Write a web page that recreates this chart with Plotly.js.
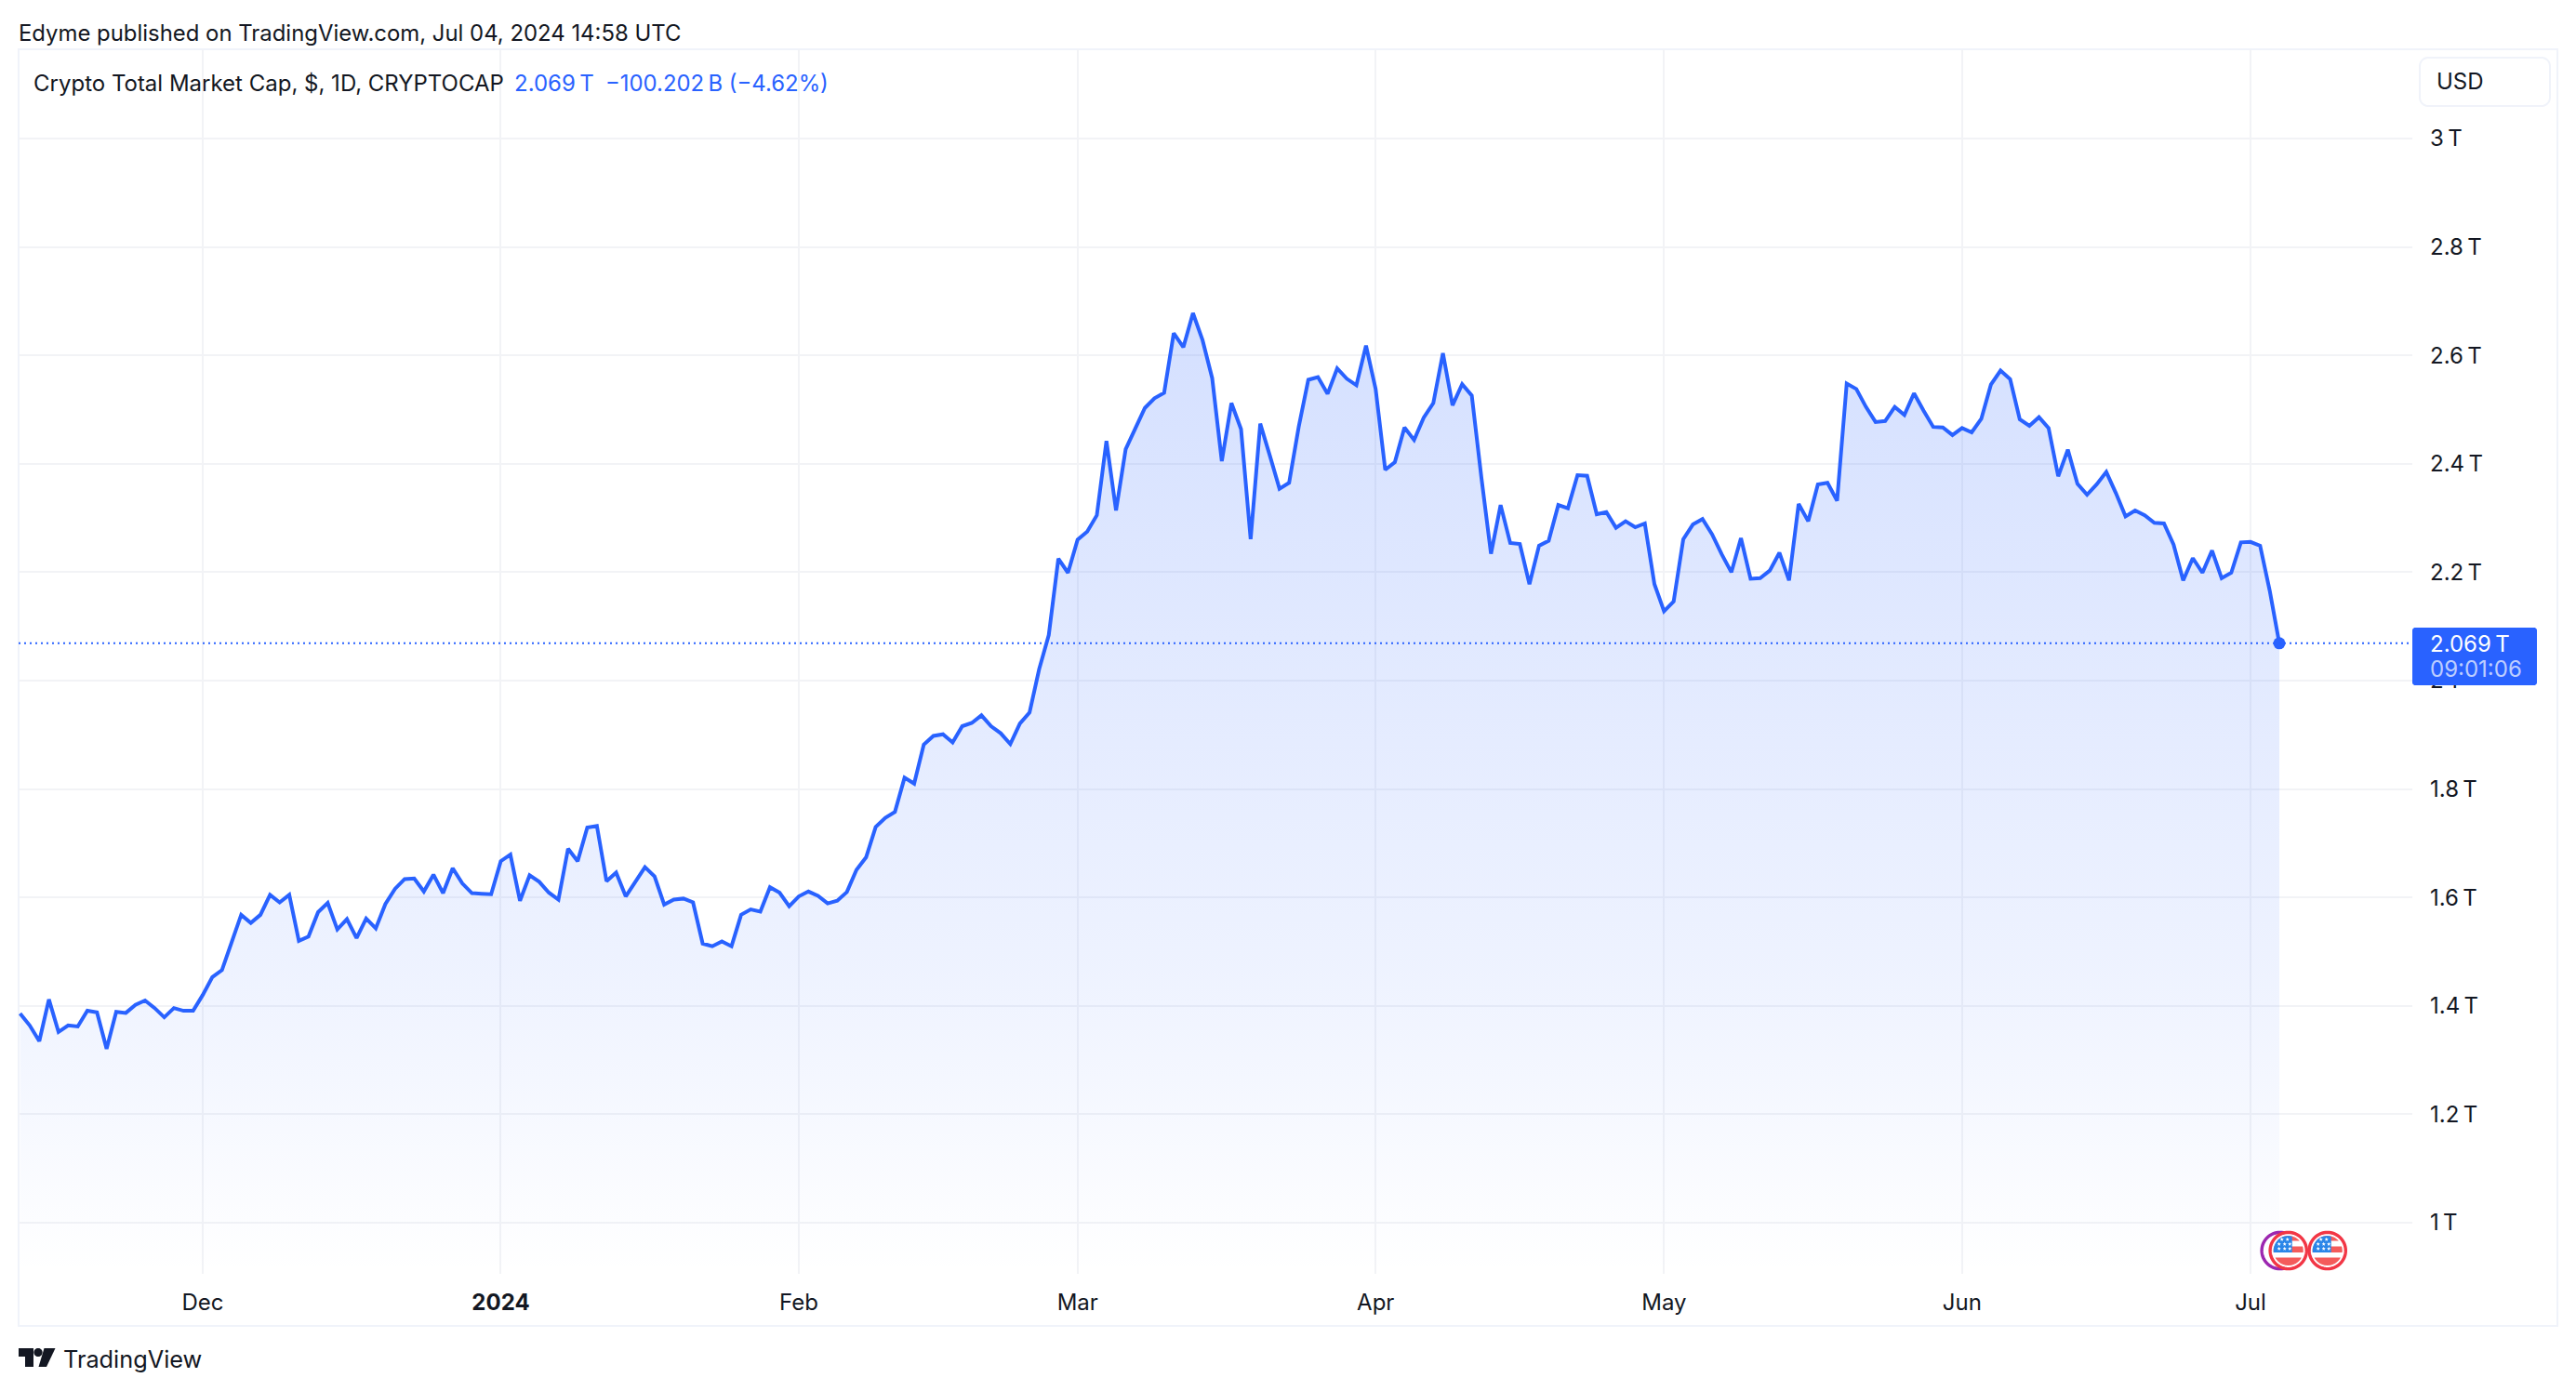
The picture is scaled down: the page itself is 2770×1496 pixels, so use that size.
<!DOCTYPE html>
<html>
<head>
<meta charset="utf-8">
<script src="https://cdn.plot.ly/plotly-3.0.1.min.js"></script>
<style>html,body{margin:0;padding:0;background:#fff;overflow:hidden}#chart{width:2770px;height:1496px}</style>
</head>
<body>
<div id="chart"></div>
<script>
// Daily closes in trillions of USD, one per day from the first date below
const firstDay = '2023-11-12';
const marketCapT = [
1.386,1.364,1.335,1.412,1.352,1.364,1.362,1.391,1.388,1.321,
1.389,1.387,1.402,1.410,1.396,1.379,1.396,1.391,1.391,1.420,
1.453,1.466,1.517,1.568,1.553,1.568,1.605,1.591,1.605,1.520,
1.528,1.573,1.590,1.541,1.560,1.525,1.561,1.543,1.588,1.616,
1.634,1.635,1.611,1.642,1.608,1.654,1.626,1.608,1.607,1.606,
1.667,1.679,1.594,1.641,1.629,1.609,1.596,1.690,1.667,1.729,
1.732,1.630,1.646,1.602,1.629,1.656,1.639,1.587,1.596,1.598,
1.591,1.515,1.510,1.519,1.510,1.568,1.578,1.574,1.619,1.609,
1.584,1.602,1.611,1.603,1.589,1.594,1.610,1.651,1.674,1.730,
1.747,1.758,1.821,1.810,1.882,1.898,1.901,1.886,1.916,1.922,
1.936,1.916,1.903,1.883,1.921,1.941,2.021,2.084,2.225,2.199,
2.260,2.275,2.305,2.442,2.314,2.427,2.465,2.503,2.521,2.531,
2.641,2.615,2.678,2.628,2.558,2.405,2.512,2.464,2.261,2.474,
2.415,2.354,2.365,2.468,2.555,2.560,2.529,2.576,2.557,2.545,
2.618,2.538,2.389,2.403,2.467,2.444,2.485,2.512,2.604,2.508,
2.547,2.526,2.375,2.234,2.324,2.254,2.252,2.178,2.249,2.258,
2.324,2.318,2.379,2.378,2.307,2.311,2.282,2.294,2.283,2.290,
2.178,2.128,2.146,2.261,2.288,2.298,2.270,2.233,2.200,2.263,
2.188,2.189,2.203,2.236,2.185,2.326,2.294,2.362,2.365,2.332,
2.548,2.538,2.505,2.477,2.479,2.505,2.490,2.530,2.498,2.468,
2.467,2.453,2.466,2.458,2.483,2.546,2.572,2.556,2.482,2.470,
2.486,2.466,2.377,2.426,2.363,2.343,2.362,2.385,2.346,2.303,
2.314,2.305,2.291,2.290,2.251,2.185,2.226,2.199,2.240,2.189,
2.199,2.255,2.256,2.249,2.166,2.069
];
const monthTicks = ['2023-12-01','2024-01-01','2024-02-01','2024-03-01','2024-04-01','2024-05-01','2024-06-01','2024-07-01'];
const monthLabels = ['Dec','<b>2024</b>','Feb','Mar','Apr','May','Jun','Jul'];
const priceTicks = [1,1.2,1.4,1.6,1.8,2,2.2,2.4,2.6,2.8,3];
const priceLabels = ['1\u202fT','1.2\u202fT','1.4\u202fT','1.6\u202fT','1.8\u202fT','2\u202fT','2.2\u202fT','2.4\u202fT','2.6\u202fT','2.8\u202fT','3\u202fT'];
const publishedText = 'Edyme published on TradingView.com, Jul 04, 2024 14:58 UTC';
const seriesTitle = 'Crypto Total Market Cap, $, 1D, CRYPTOCAP';
const lastText = '2.069\u202fT';
const changeText = '\u2212100.202\u202fB (\u22124.62%)';
const countdownText = '09:01:06';

const BLUE = '#2962FF', INK = '#131722', GRID = '#F2F3F6', FRAME = '#F0F3FA';
const FONT = 'Inter, "Noto Sans", sans-serif';
const W = 2770, H = 1496, L = 20, R = 2594, T = 53, B = 1370;

const days = marketCapT.map((_, i) => {
  const d = new Date(firstDay + 'T00:00:00Z');
  d.setUTCDate(d.getUTCDate() + i);
  return d.toISOString().slice(0, 10);
});
const lastDay = days[days.length - 1];
const lastValue = marketCapT[marketCapT.length - 1];

const px = x => (x - L) / (R - L);
const py = y => (B - y) / (B - T);

function label(text, x, y, size, color, extra) {
  return Object.assign({
    text, xref: 'paper', yref: 'paper', x: px(x), y: py(y), xanchor: 'left', yanchor: 'middle',
    showarrow: false, borderpad: 0, font: {family: FONT, size, color}
  }, extra || {});
}

// Icon helpers: paths in page pixels, turned into pixel-sized paper-anchored shapes
function iconShape(points, fill, line, lineWidth, closed) {
  const path = points.map((p, i) => (i ? 'L' : 'M') + (p[0] - L).toFixed(2) + ',' + (T - p[1]).toFixed(2)).join(' ') + (closed === false ? '' : ' Z');
  return {
    type: 'path', layer: 'above', xref: 'paper', yref: 'paper',
    xsizemode: 'pixel', ysizemode: 'pixel', xanchor: 0, yanchor: 1,
    path, fillcolor: fill || 'rgba(0,0,0,0)', line: {color: line || 'rgba(0,0,0,0)', width: lineWidth || 0}
  };
}
function circle(cx, cy, r) {
  const pts = [];
  for (let i = 0; i < 64; i++) {
    const a = i / 64 * 2 * Math.PI;
    pts.push([cx + r * Math.cos(a), cy + r * Math.sin(a)]);
  }
  return pts;
}
function band(cx, cy, r, x1, x2, y1, y2) {
  const right = [], left = [];
  const n = 24;
  for (let i = 0; i <= n; i++) {
    const y = y1 + (y2 - y1) * i / n;
    const h = Math.sqrt(Math.max(0, r * r - (y - cy) * (y - cy)));
    right.push([Math.min(x2, cx + h), y]);
    left.unshift([Math.max(x1, cx - h), y]);
  }
  return right.concat(left);
}
function star(cx, cy, r) {
  const pts = [];
  for (let i = 0; i < 10; i++) {
    const a = -Math.PI / 2 + i * Math.PI / 5, q = i % 2 ? r * 0.45 : r;
    pts.push([cx + q * Math.cos(a), cy + q * Math.sin(a)]);
  }
  return pts;
}
function roundRect(x0, y0, x1, y1, r) {
  const pts = [];
  const corner = (cx, cy, a0) => { for (let i = 0; i <= 6; i++) { const a = a0 + i / 6 * Math.PI / 2; pts.push([cx + r * Math.cos(a), cy + r * Math.sin(a)]); } };
  corner(x1 - r, y0 + r, -Math.PI / 2);
  corner(x1 - r, y1 - r, 0);
  corner(x0 + r, y1 - r, Math.PI / 2);
  corner(x0 + r, y0 + r, Math.PI);
  return pts;
}
function flag(cx, cy) {
  const r = 16;
  const out = [
    iconShape(circle(cx, cy, 19.6), '#FFFFFF', '#F23645', 3.4),
    iconShape(band(cx, cy, r, cx - r, cx + r, cy - r, cy - 10.5), '#F45B5B'),
    iconShape(band(cx, cy, r, cx - r, cx + r, cy - 4.5, cy + 2), '#F45B5B'),
    iconShape(band(cx, cy, r, cx - r, cx + r, cy + 7.5, cy + r), '#F45B5B'),
    iconShape(band(cx, cy, r, cx - r, cx + 4, cy - r, cy + 2), '#2A86E8')
  ];
  [[-7, -12], [-1, -12], [-10, -7], [-4, -7], [1.5, -7], [-10, -2], [-4, -2], [1.5, -2]].forEach(s => {
    out.push(iconShape(star(cx + s[0], cy + s[1], 2.2), '#FFFFFF'));
  });
  return out;
}

const shapes = [
  // outer frame
  {type: 'rect', layer: 'below', xref: 'paper', yref: 'paper', x0: px(L), x1: px(2750), y0: py(1426), y1: py(T), line: {color: FRAME, width: 2}},
  // last price line
  {type: 'line', layer: 'above', xref: 'paper', yref: 'y', x0: 0, x1: 1, y0: lastValue, y1: lastValue, line: {color: BLUE, width: 2, dash: '2px,4px'}},
  // last price tag
  iconShape(roundRect(R, 675, 2728, 737, 3), BLUE),
  // USD box
  iconShape(roundRect(2602, 62, 2742, 114, 9), '#FFFFFF', FRAME, 2),
  // TradingView logo
  iconShape([[20, 1450], [36, 1450], [36, 1470], [27, 1470], [27, 1459], [20, 1459]], INK),
  iconShape(circle(41, 1454.5, 4.6), INK),
  iconShape([[47.5, 1450], [59.5, 1450], [50, 1470], [41.5, 1470]], INK),
  // event icons
  iconShape(circle(2451.7, 1345, 19.6), 'rgba(0,0,0,0)', '#9C27B0', 3.4)
].concat(flag(2460.7, 1345), flag(2502.7, 1345));

const annotations = [
  label(publishedText, 18.5, 35, 23.9, INK),
  label(seriesTitle, 34.5, 89.5, 24, INK),
  label(lastText, 551.5, 89.5, 24, BLUE),
  label(changeText, 650, 89.5, 23.9, BLUE),
  label('USD', 2619, 87, 24, INK),
  label('TradingView', 67, 1461, 25.3, INK),
  label(lastText, 2612, 692, 24, '#FFFFFF'),
  label(countdownText, 2612, 719.5, 24, 'rgba(255,255,255,0.7)')
];

const area = {
  type: 'scatter', mode: 'lines', x: days, y: marketCapT,
  line: {color: BLUE, width: 4, shape: 'linear'},
  fill: 'tozeroy',
  fillgradient: {type: 'vertical', start: 0.9057, stop: 2.68, colorscale: [[0, 'rgba(41,98,255,0)'], [0.319, 'rgba(41,98,255,0.08)'], [1, 'rgba(41,98,255,0.2)']]},
  hoverinfo: 'skip', cliponaxis: true
};
const lastPoint = {
  type: 'scatter', mode: 'markers', x: [lastDay], y: [lastValue],
  marker: {color: BLUE, size: 13}, hoverinfo: 'skip'
};

const layout = {
  width: W, height: H, showlegend: false,
  paper_bgcolor: '#FFFFFF', plot_bgcolor: '#FFFFFF',
  margin: {l: L, r: W - R, t: T, b: H - B, pad: 0},
  font: {family: FONT, color: INK, size: 24},
  xaxis: {
    type: 'date', range: ['2023-11-11 20:20', '2024-07-17 20:00'],
    tickmode: 'array', tickvals: monthTicks, ticktext: monthLabels, ticks: '',
    showgrid: true, gridcolor: GRID, gridwidth: 2, zeroline: false, showline: false,
    tickfont: {family: FONT, size: 24, color: INK}, ticklabelstandoff: 14, fixedrange: true
  },
  yaxis: {
    side: 'right', range: [0.9057, 3.1647],
    tickmode: 'array', tickvals: priceTicks, ticktext: priceLabels, ticks: '',
    showgrid: true, gridcolor: GRID, gridwidth: 2, zeroline: false, showline: false,
    tickfont: {family: FONT, size: 24, color: INK}, ticklabelstandoff: 18, fixedrange: true
  },
  shapes, annotations
};

Plotly.newPlot('chart', [area, lastPoint], layout, {displayModeBar: false, staticPlot: true});
</script>
</body>
</html>
